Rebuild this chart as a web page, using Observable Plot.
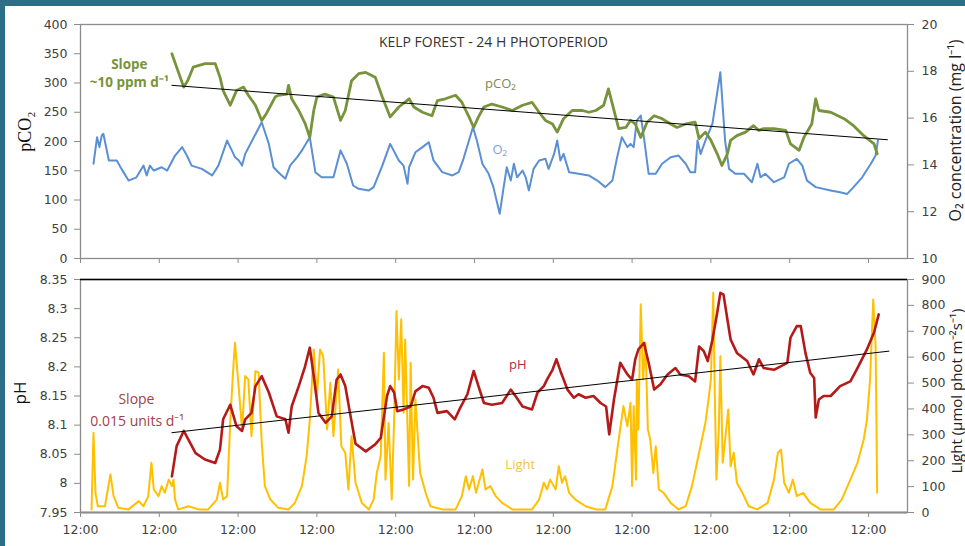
<!DOCTYPE html>
<html>
<head>
<meta charset="utf-8">
<script src="https://cdn.jsdelivr.net/npm/d3@7"></script>
<script src="https://cdn.jsdelivr.net/npm/@observablehq/plot@0.6"></script>
<style>
  html, body { margin: 0; padding: 0; background: #fff; overflow: hidden; }
  #wrap { position: relative; width: 965px; height: 546px; overflow: hidden; background: #fff; }
  #topPanel, #botPanel { position: absolute; left: 0; }
  #topPanel { top: 0; }
  #botPanel { top: 266px; }
  .bar { position: absolute; background: #2e6e86; z-index: 5; }
</style>
</head>
<body>
<div id="wrap">
  <div id="topPanel"></div>
  <div id="botPanel"></div>
  <div class="bar" style="left:0;top:0;width:965px;height:6px"></div>
  <div class="bar" style="left:0;top:0;width:5px;height:546px"></div>
</div>
<script>
// ---- time axis (days since first 12:00) ----
const dayTicks = [0, 1, 2, 3, 4, 5, 6, 7, 8, 9, 10];
const dayLabel = "12:00";

// ---- top panel ticks ----
const pco2Ticks = [0, 50, 100, 150, 200, 250, 300, 350, 400];
const o2Ticks = [10, 12, 14, 16, 18, 20];

// ---- bottom panel ticks ----
const phTicks = [7.95, 8, 8.05, 8.1, 8.15, 8.2, 8.25, 8.3, 8.35];
const phLabels = ["7.95", "8", "8.05", "8.1", "8.15", "8.2", "8.25", "8.3", "8.35"];
const lightTicks = [0, 100, 200, 300, 400, 500, 600, 700, 800, 900];

// ---- series: [day, value] ----
const pco2 = [[1.16,350],[1.31,293],[1.36,304],[1.43,327],[1.58,333],[1.71,333],[1.77,310],[1.81,287],[1.90,262],[1.98,287],[2.07,293],[2.13,279],[2.22,262],[2.30,236],[2.36,248],[2.47,276],[2.51,279],[2.62,281],[2.64,296],[2.68,273],[2.77,253],[2.85,231],[2.91,207],[2.96,253],[3.00,276],[3.10,281],[3.21,276],[3.30,236],[3.36,253],[3.44,304],[3.53,316],[3.62,318],[3.74,310],[3.83,276],[3.93,242],[4.04,259],[4.17,273],[4.23,259],[4.34,250],[4.46,244],[4.53,270],[4.63,273],[4.76,279],[4.84,267],[4.93,242],[4.99,224],[5.05,242],[5.12,259],[5.22,264],[5.35,259],[5.48,253],[5.61,262],[5.73,267],[5.82,250],[5.90,236],[5.99,230],[6.05,216],[6.13,239],[6.24,253],[6.37,253],[6.45,250],[6.54,253],[6.64,262],[6.70,290],[6.75,264],[6.83,222],[6.92,224],[6.98,236],[7.04,230],[7.11,207],[7.19,233],[7.28,244],[7.38,239],[7.49,230],[7.57,224],[7.68,230],[7.80,233],[7.85,205],[7.93,216],[8.00,202],[8.08,179],[8.14,159],[8.21,179],[8.25,202],[8.33,210],[8.44,216],[8.54,227],[8.61,219],[8.67,222],[8.80,222],[8.95,219],[9.01,196],[9.12,185],[9.18,207],[9.28,230],[9.33,273],[9.37,253],[9.52,250],[9.69,239],[9.81,227],[9.94,210],[10.07,196],[10.11,179]];

const o2 = [[0.165,14.05],[0.21,15.18],[0.24,14.76],[0.27,15.26],[0.29,15.33],[0.36,14.19],[0.46,14.19],[0.52,13.83],[0.61,13.33],[0.71,13.47],[0.80,13.97],[0.84,13.55],[0.88,13.97],[0.93,13.76],[1.03,13.90],[1.10,13.76],[1.20,14.40],[1.29,14.76],[1.35,14.40],[1.41,13.97],[1.54,13.83],[1.67,13.55],[1.75,13.97],[1.86,15.04],[1.92,14.62],[1.96,14.33],[2.01,14.19],[2.05,13.97],[2.09,14.47],[2.20,15.18],[2.30,15.82],[2.39,14.90],[2.45,13.90],[2.53,13.62],[2.60,13.41],[2.66,13.97],[2.75,14.33],[2.81,14.62],[2.91,15.18],[2.98,13.69],[3.06,13.47],[3.21,13.47],[3.30,14.62],[3.38,14.05],[3.46,13.12],[3.53,12.98],[3.66,12.91],[3.72,13.05],[3.83,13.97],[3.93,14.90],[4.04,14.19],[4.10,13.97],[4.15,13.19],[4.17,13.90],[4.25,14.54],[4.34,14.76],[4.42,14.97],[4.48,14.19],[4.59,13.69],[4.72,13.55],[4.80,13.69],[4.86,14.26],[4.93,15.04],[4.98,15.61],[5.03,15.04],[5.10,14.05],[5.18,13.62],[5.24,13.05],[5.32,11.91],[5.37,13.05],[5.41,13.90],[5.46,13.33],[5.50,14.05],[5.54,13.47],[5.61,13.76],[5.65,13.47],[5.69,12.91],[5.75,13.83],[5.82,14.19],[5.90,14.26],[5.94,13.83],[6.01,14.47],[6.05,15.04],[6.09,14.19],[6.13,14.47],[6.20,13.69],[6.32,13.62],[6.45,13.55],[6.56,13.33],[6.66,13.05],[6.75,13.33],[6.81,14.33],[6.87,15.18],[6.94,14.76],[6.98,14.90],[7.02,14.76],[7.06,15.90],[7.11,16.11],[7.15,15.18],[7.21,13.62],[7.30,13.62],[7.38,14.05],[7.49,14.33],[7.59,14.40],[7.68,14.05],[7.74,13.69],[7.80,13.69],[7.83,15.04],[7.87,14.47],[7.93,15.04],[8.02,15.76],[8.12,17.96],[8.18,15.04],[8.23,13.83],[8.31,13.62],[8.42,13.62],[8.52,13.26],[8.59,14.05],[8.63,13.47],[8.69,13.62],[8.80,13.26],[8.93,13.47],[8.99,14.05],[9.09,14.26],[9.16,13.97],[9.22,13.33],[9.33,13.05],[9.52,12.91],[9.64,12.83],[9.73,12.76],[9.81,13.05],[9.92,13.47],[10.03,14.05],[10.09,14.40],[10.12,15.04]];

const ph = [[1.16,8.012],[1.22,8.064],[1.31,8.090],[1.39,8.070],[1.46,8.052],[1.58,8.041],[1.71,8.035],[1.77,8.058],[1.81,8.110],[1.90,8.135],[1.98,8.098],[2.05,8.090],[2.09,8.110],[2.17,8.121],[2.22,8.167],[2.30,8.184],[2.39,8.156],[2.49,8.115],[2.60,8.110],[2.64,8.087],[2.68,8.132],[2.77,8.167],[2.85,8.201],[2.91,8.233],[2.96,8.184],[3.02,8.121],[3.11,8.104],[3.19,8.115],[3.25,8.178],[3.30,8.187],[3.36,8.167],[3.42,8.121],[3.49,8.068],[3.62,8.055],[3.74,8.067],[3.81,8.078],[3.89,8.150],[3.93,8.167],[3.98,8.156],[4.02,8.124],[4.10,8.127],[4.19,8.132],[4.25,8.158],[4.34,8.167],[4.42,8.164],[4.48,8.147],[4.53,8.121],[4.65,8.124],[4.75,8.110],[4.82,8.130],[4.91,8.153],[4.99,8.193],[5.05,8.167],[5.12,8.138],[5.22,8.135],[5.35,8.138],[5.46,8.161],[5.52,8.150],[5.61,8.132],[5.73,8.127],[5.80,8.156],[5.88,8.167],[5.92,8.178],[5.99,8.195],[6.04,8.213],[6.09,8.193],[6.18,8.161],[6.26,8.147],[6.32,8.153],[6.41,8.147],[6.51,8.150],[6.60,8.138],[6.67,8.132],[6.71,8.084],[6.77,8.144],[6.85,8.207],[6.94,8.187],[7.00,8.178],[7.04,8.213],[7.08,8.230],[7.15,8.241],[7.21,8.207],[7.28,8.161],[7.36,8.170],[7.45,8.187],[7.55,8.198],[7.61,8.187],[7.72,8.184],[7.80,8.175],[7.85,8.235],[7.91,8.227],[7.96,8.210],[8.02,8.247],[8.08,8.293],[8.12,8.327],[8.16,8.324],[8.21,8.281],[8.25,8.247],[8.33,8.224],[8.46,8.210],[8.54,8.187],[8.61,8.213],[8.67,8.198],[8.80,8.195],[8.97,8.207],[9.01,8.250],[9.09,8.270],[9.14,8.270],[9.20,8.224],[9.26,8.190],[9.31,8.181],[9.33,8.113],[9.37,8.144],[9.43,8.150],[9.52,8.150],[9.64,8.167],[9.77,8.175],[9.86,8.198],[9.98,8.230],[10.07,8.259],[10.13,8.290]];

const light = [[0.14,12],[0.165,308],[0.19,76],[0.22,24],[0.31,24],[0.38,147],[0.42,63],[0.48,18],[0.61,12],[0.74,44],[0.80,24],[0.86,63],[0.90,192],[0.93,89],[0.99,63],[1.03,102],[1.07,76],[1.12,127],[1.16,102],[1.18,127],[1.20,50],[1.24,12],[1.37,24],[1.50,12],[1.62,12],[1.73,50],[1.77,115],[1.81,50],[1.86,63],[1.90,346],[1.93,514],[1.96,656],[2.01,475],[2.05,321],[2.09,527],[2.13,514],[2.17,295],[2.22,546],[2.26,540],[2.30,269],[2.34,102],[2.41,50],[2.51,18],[2.64,12],[2.72,37],[2.81,102],[2.87,218],[2.91,359],[2.96,630],[3.00,449],[3.04,630],[3.08,604],[3.13,321],[3.17,501],[3.21,295],[3.27,552],[3.31,256],[3.36,231],[3.40,89],[3.44,295],[3.49,115],[3.57,37],[3.66,12],[3.72,50],[3.76,153],[3.81,218],[3.85,617],[3.87,127],[3.91,346],[3.95,50],[3.98,359],[4.01,778],[4.04,514],[4.07,746],[4.10,385],[4.12,668],[4.17,102],[4.19,578],[4.22,127],[4.25,437],[4.31,153],[4.38,76],[4.44,24],[4.59,12],[4.76,12],[4.84,63],[4.89,140],[4.93,89],[4.98,140],[5.02,76],[5.10,166],[5.14,89],[5.20,102],[5.27,63],[5.35,37],[5.48,12],[5.73,12],[5.82,50],[5.88,115],[5.92,89],[5.96,127],[6.03,89],[6.07,179],[6.11,115],[6.15,140],[6.20,76],[6.28,50],[6.41,24],[6.54,12],[6.66,12],[6.75,102],[6.83,282],[6.89,411],[6.94,333],[6.98,424],[7.00,102],[7.02,411],[7.05,127],[7.06,514],[7.08,321],[7.11,804],[7.14,514],[7.17,656],[7.20,321],[7.23,282],[7.27,153],[7.30,256],[7.34,89],[7.40,76],[7.49,37],[7.59,12],[7.68,24],[7.76,102],[7.85,231],[7.93,346],[7.97,437],[8.00,514],[8.03,849],[8.05,449],[8.07,127],[8.10,321],[8.12,604],[8.15,192],[8.19,308],[8.22,398],[8.25,179],[8.29,231],[8.33,115],[8.40,76],[8.48,24],[8.59,12],[8.72,37],[8.80,127],[8.85,231],[8.89,243],[8.93,115],[8.99,76],[9.04,127],[9.09,63],[9.17,76],[9.26,37],[9.39,12],[9.56,12],[9.66,50],[9.77,127],[9.86,192],[9.94,282],[9.98,359],[10.02,514],[10.06,823],[10.09,642],[10.10,385],[10.11,76]];

// linear trends (fitted lines shown on chart)
const pco2Trend = [[1.16,296],[10.24,203]];
const phTrend = [[1.16,8.087],[10.26,8.227]];

// secondary-axis conversions
const o2ToLeft = v => (v - 10) * 40;          // 10..20 mg/l -> 0..400
const leftToO2 = v => Math.round(10 + v / 40);
const lightToPh = v => 7.95 + v / 900 * 0.4;  // 0..900 -> 7.95..8.35
const phToLight = v => Math.round((v - 7.95) / 0.4 * 900);

const FONT = "DejaVu Sans";
const TXT = "#404040";
const GREEN = "#77933c";
const BLUE = "#5b8fd3";
const RED = "#b51a1a";
const YELLOW = "#ffc000";

// ---------------- TOP PANEL ----------------
const topChart = Plot.plot({
  width: 965, height: 266,
  marginLeft: 80, marginRight: 58, marginTop: 24, marginBottom: 8,
  style: {fontFamily: FONT, background: "transparent", overflow: "hidden"},
  x: {domain: [0, 10.495], axis: null},
  y: {domain: [0, 400], axis: null},
  marks: [
    Plot.frame({stroke: "#8c8c8c", strokeWidth: 1.3}),
    Plot.axisY(pco2Ticks, {anchor: "left", tickSize: 6, tickPadding: 7, fontSize: 12.5, color: TXT, stroke: "#8c8c8c", tickFormat: d => String(d)}),
    Plot.axisY(o2Ticks.map(o2ToLeft), {anchor: "right", tickSize: 6, tickPadding: 8, fontSize: 12.5, color: TXT, stroke: "#8c8c8c", tickFormat: d => String(leftToO2(d))}),
    Plot.axisX(dayTicks, {anchor: "bottom", tickSize: 5, stroke: "#8c8c8c", tickFormat: () => ""}),
    Plot.line(o2, {x: d => d[0], y: d => o2ToLeft(d[1]), stroke: BLUE, strokeWidth: 2, strokeLinejoin: "round"}),
    Plot.line(pco2, {x: d => d[0], y: d => d[1], stroke: GREEN, strokeWidth: 2.8, strokeLinejoin: "round"}),
    Plot.line(pco2Trend, {x: d => d[0], y: d => d[1], stroke: "#000", strokeWidth: 1}),
    Plot.text(["KELP FOREST - 24 H PHOTOPERIOD"], {x: 5.24, y: 369, fontSize: 14, fill: "#333", fontFamily: "Open Sans"}),
    Plot.text(["Slope"], {x: 0.62, y: 332, fontSize: 13.5, fontWeight: "bold", fill: GREEN, fontFamily: "Open Sans"}),
    Plot.text(["~10 ppm d⁻¹"], {x: 0.62, y: 300, fontSize: 13.5, fontWeight: "bold", fill: GREEN, fontFamily: "Open Sans"}),
    Plot.text(["pCO₂"], {x: 5.33, y: 299, fontSize: 13, fill: "#7c8a55", fontFamily: "Open Sans"}),
    Plot.text(["O₂"], {x: 5.32, y: 185, fontSize: 13, fill: "#7fa3d6", fontFamily: "Open Sans"}),
    Plot.text(["pCO₂"], {frameAnchor: "left", textAnchor: "middle", dx: -55, dy: -10, rotate: -90, fontSize: 18, fill: "#111", fontFamily: "Liberation Serif"}),
    Plot.text(["O₂ concentration (mg l⁻¹)"], {frameAnchor: "right", textAnchor: "middle", dx: 48, dy: -11, rotate: -90, fontSize: 16, fill: "#222", fontFamily: "Open Sans"})
  ]
});
document.getElementById("topPanel").appendChild(topChart);

// ---------------- BOTTOM PANEL ----------------
const botChart = Plot.plot({
  width: 965, height: 280,
  marginLeft: 80, marginRight: 58, marginTop: 13, marginBottom: 34,
  style: {fontFamily: FONT, background: "transparent", overflow: "hidden"},
  x: {domain: [0, 10.495], axis: null},
  y: {domain: [7.95, 8.35], axis: null},
  marks: [
    Plot.frame({stroke: "#8c8c8c", strokeWidth: 1.3}),
    Plot.ruleY([8.35], {stroke: "#000", strokeWidth: 1.3}),
    Plot.ruleY([7.95], {stroke: "#8c8c8c", strokeWidth: 2}),
    Plot.axisY(phTicks, {anchor: "left", tickSize: 6, tickPadding: 7, fontSize: 12.5, color: TXT, stroke: "#8c8c8c", tickFormat: d => phLabels[phTicks.indexOf(d)]}),
    Plot.axisY(lightTicks.map(lightToPh), {anchor: "right", tickSize: 6, tickPadding: 8, fontSize: 12.5, color: TXT, stroke: "#8c8c8c", tickFormat: d => String(phToLight(d))}),
    Plot.axisX(dayTicks, {anchor: "bottom", tickSize: 5, tickPadding: 8, fontSize: 12.5, color: TXT, stroke: "#8c8c8c", tickFormat: () => dayLabel}),
    Plot.line(light, {x: d => d[0], y: d => lightToPh(d[1]), stroke: YELLOW, strokeWidth: 2, strokeLinejoin: "round"}),
    Plot.line(ph, {x: d => d[0], y: d => d[1], stroke: RED, strokeWidth: 2.6, strokeLinejoin: "round"}),
    Plot.line(phTrend, {x: d => d[0], y: d => d[1], stroke: "#000", strokeWidth: 1}),
    Plot.text(["pH"], {x: 5.55, y: 8.204, fontSize: 13, fill: "#a5323e", fontFamily: "Open Sans"}),
    Plot.text(["Light"], {x: 5.58, y: 8.031, fontSize: 13, fill: "#f3c24a", fontFamily: "Open Sans"}),
    Plot.text(["Slope"], {x: 0.71, y: 8.144, fontSize: 14, fill: "#a3404a", fontFamily: "Open Sans"}),
    Plot.text(["0.015 units d⁻¹"], {x: 0.72, y: 8.106, fontSize: 14, fill: "#a3404a", fontFamily: "Open Sans"}),
    Plot.text(["pH"], {frameAnchor: "left", textAnchor: "middle", dx: -60, dy: -3, rotate: -90, fontSize: 17, fill: "#111", fontFamily: "Open Sans"}),
    Plot.text(["Light (µmol phot m⁻²s⁻¹)"], {frameAnchor: "right", textAnchor: "middle", dx: 50, dy: -5, rotate: -90, fontSize: 15, fill: "#222", fontFamily: "Open Sans"})
  ]
});
document.getElementById("botPanel").appendChild(botChart);
</script>
</body>
</html>
